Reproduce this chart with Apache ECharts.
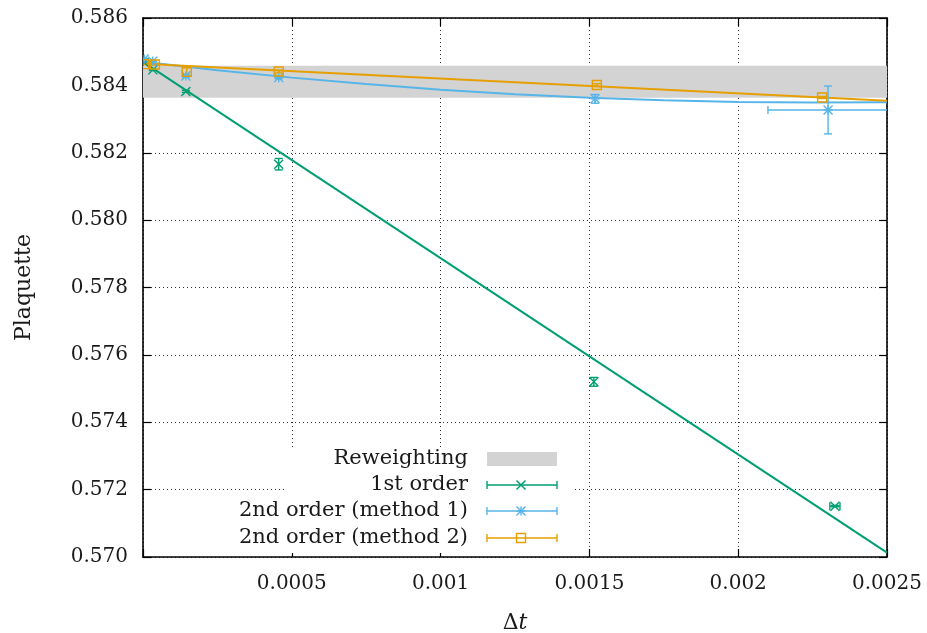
<!DOCTYPE html>
<html>
<head>
<meta charset="utf-8">
<script src="https://cdn.jsdelivr.net/npm/echarts@6/dist/echarts.min.js"></script>
<style>
  html, body { margin: 0; padding: 0; background: #ffffff; }
  #chart { width: 927px; height: 633px; }
</style>
</head>
<body>
<div id="chart"></div>
<script>
// ---- measured plaquette values vs time step ----
const firstX  = [0.000004, 0.000033, 0.000144, 0.000456, 0.001515, 0.002325];
const firstY  = [0.58468, 0.58446, 0.58382, 0.58166, 0.57520, 0.57151];
const firstXe = [0, 0, 0, 0, 0, 0.000017];
const firstYe = [0.00002, 0.00002, 0.00003, 0.00017, 0.00013, 0.00002];

const m1X  = [0.000004, 0.000033, 0.000144, 0.000456, 0.001519, 0.002302];
const m1Y  = [0.58478, 0.58472, 0.58428, 0.58423, 0.58360, 0.58327];
const m1Xe = [0, 0, 0, 0, 0, 0.000202];
const m1Ye = [0.00002, 0.00002, 0.00004, 0.00004, 0.00013, 0.00071];

const m2X  = [0.000004, 0.000040, 0.000147, 0.000456, 0.001525, 0.002282];
const m2Y  = [0.58463, 0.58462, 0.58440, 0.58441, 0.58401, 0.58364];
const m2Xe = [0, 0, 0, 0, 0, 0];
const m2Ye = [0.00002, 0.00002, 0.00012, 0.00004, 0.00004, 0.00003];

// ---- fitted curves ----
const fit1X = [0, 0.0025];
const fit1Y = [0.58470, 0.57013];
const fit2X = [0, 0.00025, 0.0005, 0.00075, 0.001, 0.00125, 0.0015, 0.00175, 0.002, 0.00225, 0.0025];
const fit2Y = [0.58470, 0.58445, 0.58423, 0.58404, 0.58387, 0.58374, 0.58363, 0.58356, 0.58351, 0.58349, 0.58350];
const fit3X = [0, 0.0025];
const fit3Y = [0.58464, 0.58354];

// ---- reweighting band ----
const reweightLo = 0.58363;
const reweightHi = 0.58458;

const legendLabels = ['Reweighting', '1st order', '2nd order (method 1)', '2nd order (method 2)'];

const GREEN = '#009e73', BLUE = '#56b4e9', ORANGE = '#e69f00', BAND = '#d3d3d3';
const SERIF = '"DejaVu Serif", serif';

function pairs(xs, ys) { return xs.map((x, i) => [x, ys[i]]); }

// point glyphs: 'cross' (x), 'star' (x and +), 'square' (open box)
function glyph(kind, cx, cy, color, h) {
  const st = { stroke: color, lineWidth: 1.4, fill: null };
  const L = (x1, y1, x2, y2) => ({ type: 'line', shape: { x1, y1, x2, y2 }, style: st, z2: 5 });
  if (kind === 'cross') {
    return [L(cx - h, cy - h, cx + h, cy + h), L(cx - h, cy + h, cx + h, cy - h)];
  }
  if (kind === 'star') {
    return [L(cx - h, cy - h, cx + h, cy + h), L(cx - h, cy + h, cx + h, cy - h),
            L(cx - h, cy, cx + h, cy), L(cx, cy - h, cx, cy + h)];
  }
  return [{ type: 'rect', shape: { x: cx - h, y: cy - h, width: 2 * h, height: 2 * h },
            style: { stroke: color, lineWidth: 1.4, fill: null }, z2: 5 }];
}

function errorSeries(name, xs, ys, xe, ye, color, kind) {
  const data = xs.map((x, i) => [x, ys[i], xe[i], ye[i]]);
  return {
    type: 'custom', name, data, clip: true, z: 5,
    encode: { x: 0, y: 1 },
    renderItem(params, api) {
      const x = api.value(0), y = api.value(1), dx = api.value(2), dy = api.value(3);
      const c = api.coord([x, y]);
      const st = { stroke: color, lineWidth: 1.4 };
      const cap = 4;
      const kids = [];
      if (dx > 0) {
        const l = api.coord([x - dx, y]), r = api.coord([x + dx, y]);
        kids.push({ type: 'line', shape: { x1: l[0], y1: c[1], x2: r[0], y2: c[1] }, style: st });
        kids.push({ type: 'line', shape: { x1: l[0], y1: c[1] - cap, x2: l[0], y2: c[1] + cap }, style: st });
        kids.push({ type: 'line', shape: { x1: r[0], y1: c[1] - cap, x2: r[0], y2: c[1] + cap }, style: st });
      }
      if (dy > 0) {
        const t = api.coord([x, y + dy]), b = api.coord([x, y - dy]);
        kids.push({ type: 'line', shape: { x1: c[0], y1: t[1], x2: c[0], y2: b[1] }, style: st });
        kids.push({ type: 'line', shape: { x1: c[0] - cap, y1: t[1], x2: c[0] + cap, y2: t[1] }, style: st });
        kids.push({ type: 'line', shape: { x1: c[0] - cap, y1: b[1], x2: c[0] + cap, y2: b[1] }, style: st });
      }
      return { type: 'group', children: kids.concat(glyph(kind, c[0], c[1], color, 4.5)) };
    }
  };
}

function fitSeries(xs, ys, color) {
  return {
    type: 'line', data: pairs(xs, ys), showSymbol: false, symbol: 'none', z: 3,
    lineStyle: { color, width: 2 }, silent: true, animation: false
  };
}

// ---- key (drawn at the lower middle of the plot) ----
const keyRows = [459, 485, 511, 538];
const keyTextRight = 468, keyS0 = 487, keyS1 = 557, keyMid = 521;
const keyItems = [];
keyItems.push({ type: 'rect', shape: { x: 285, y: 449, width: 288, height: 104 },
                style: { fill: '#ffffff' }, z: 1, silent: true });
legendLabels.forEach((txt, i) => {
  keyItems.push({ type: 'text', x: keyTextRight, y: keyRows[i], z: 10,
    style: { text: txt, font: '21px ' + SERIF, fill: '#1a1a1a', align: 'right', verticalAlign: 'middle' } });
});
keyItems.push({ type: 'rect', shape: { x: keyS0, y: keyRows[0] - 7, width: keyS1 - keyS0, height: 14 },
                style: { fill: BAND }, z: 10 });
[[GREEN, 'cross'], [BLUE, 'star'], [ORANGE, 'square']].forEach(([col, kind], k) => {
  const y = keyRows[k + 1];
  const st = { stroke: col, lineWidth: 1.4 };
  keyItems.push({ type: 'line', z: 10, shape: { x1: keyS0, y1: y, x2: keyS1, y2: y }, style: st });
  keyItems.push({ type: 'line', z: 10, shape: { x1: keyS0, y1: y - 4, x2: keyS0, y2: y + 4 }, style: st });
  keyItems.push({ type: 'line', z: 10, shape: { x1: keyS1, y1: y - 4, x2: keyS1, y2: y + 4 }, style: st });
  glyph(kind, keyMid, y, col, 4.5).forEach(g => { g.z = 10; keyItems.push(g); });
});

const gridLine = { show: true, lineStyle: { color: '#000000', type: [1, 3], width: 1, opacity: 0.8 } };
const frameLine = { show: true, onZero: false, lineStyle: { color: '#000000', width: 1.6 } };
const innerTick = { show: true, inside: true, length: 8, lineStyle: { color: '#000000', width: 1.2 } };

const option = {
  animation: false,
  backgroundColor: '#ffffff',
  grid: { left: 143, right: 40, top: 18, bottom: 76, containLabel: false, outerBoundsMode: 'none' },
  xAxis: [{
    type: 'value', min: 0, max: 0.0025, interval: 0.0005,
    name: '{d|Δ}{t|t}', nameLocation: 'middle', nameGap: 55,
    nameTextStyle: { rich: { d: { fontFamily: SERIF, fontSize: 22, color: '#1a1a1a' },
                             t: { fontFamily: SERIF, fontSize: 22, fontStyle: 'italic', color: '#1a1a1a' } } },
    axisLine: frameLine, axisTick: innerTick, splitLine: gridLine,
    axisLabel: { margin: 17, fontFamily: SERIF, fontSize: 20, color: '#1a1a1a',
                 formatter: v => (v === 0 ? '' : String(+v.toFixed(4))) }
  }, {
    type: 'value', position: 'top', min: 0, max: 0.0025, interval: 0.0005,
    axisLine: frameLine, axisTick: innerTick, axisLabel: { show: false }, splitLine: { show: false }
  }],
  yAxis: [{
    type: 'value', min: 0.570, max: 0.586, interval: 0.002,
    name: 'Plaquette', nameLocation: 'middle', nameGap: 108,
    nameTextStyle: { fontFamily: SERIF, fontSize: 22, color: '#1a1a1a' },
    axisLine: frameLine, axisTick: innerTick, splitLine: gridLine,
    axisLabel: { margin: 15, fontFamily: SERIF, fontSize: 20, color: '#1a1a1a',
                 formatter: v => v.toFixed(3) }
  }, {
    type: 'value', position: 'right', min: 0.570, max: 0.586, interval: 0.002,
    axisLine: frameLine, axisTick: innerTick, axisLabel: { show: false }, splitLine: { show: false }
  }],
  graphic: { elements: keyItems },
  series: [
    {
      type: 'line', data: [], z: 1, silent: true,
      markArea: { silent: true, itemStyle: { color: BAND, opacity: 1 },
                  data: [[{ yAxis: reweightLo }, { yAxis: reweightHi }]] }
    },
    fitSeries(fit1X, fit1Y, GREEN),
    fitSeries(fit2X, fit2Y, BLUE),
    fitSeries(fit3X, fit3Y, ORANGE),
    errorSeries('1st order', firstX, firstY, firstXe, firstYe, GREEN, 'cross'),
    errorSeries('2nd order (method 1)', m1X, m1Y, m1Xe, m1Ye, BLUE, 'star'),
    errorSeries('2nd order (method 2)', m2X, m2Y, m2Xe, m2Ye, ORANGE, 'square')
  ]
};

const chart = echarts.init(document.getElementById('chart'), null, { renderer: 'canvas' });
chart.setOption(option);
</script>
</body>
</html>
